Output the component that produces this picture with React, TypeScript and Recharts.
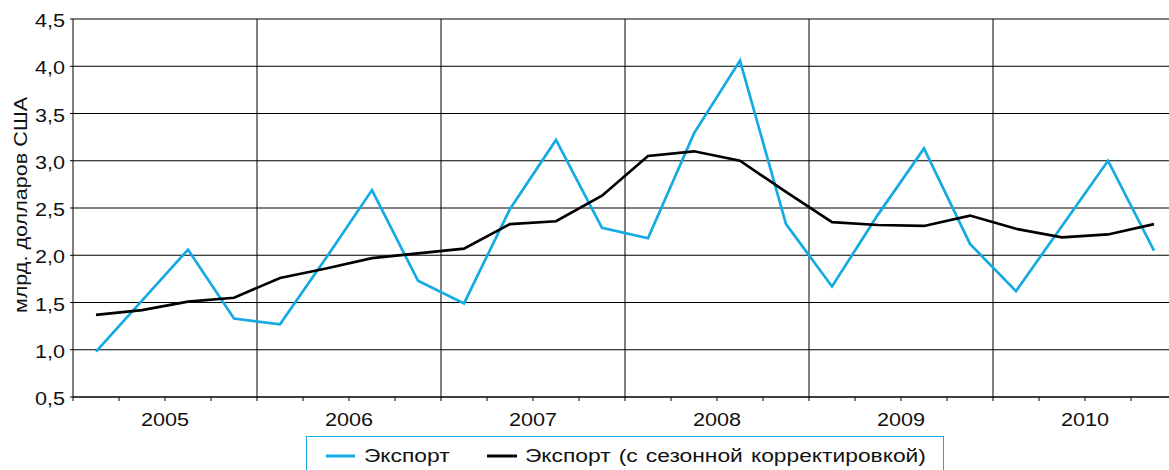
import React from 'react';
import { LineChart, Line, XAxis, YAxis, CartesianGrid, ReferenceLine, Legend, Label } from 'recharts';

const years = ['2005', '2006', '2007', '2008', '2009', '2010'];
const quartersPerYear = 4;
const exportValues = [0.98, 1.52, 2.06, 1.33, 1.27, 1.97, 2.69, 1.73, 1.49, 2.49, 3.22, 2.29, 2.18, 3.29, 4.06, 2.33, 1.67, 2.43, 3.13, 2.12, 1.62, 2.31, 3.0, 2.05];
const seasonalValues = [1.37, 1.42, 1.51, 1.55, 1.76, 1.86, 1.97, 2.02, 2.07, 2.33, 2.36, 2.63, 3.05, 3.1, 3.0, 2.67, 2.35, 2.32, 2.31, 2.42, 2.28, 2.19, 2.22, 2.33];
const yTicks = [0.5, 1, 1.5, 2, 2.5, 3, 3.5, 4, 4.5];
const seriesNames = ['Экспорт', 'Экспорт (с сезонной корректировкой)'];
const yAxisTitle = 'млрд. долларов США';

const BLUE = '#14aae3';
const FONT = '"Liberation Sans", Arial, Helvetica, sans-serif';
const FS = 18;
const SX = 1.2;
const LEG_FS = 19;

const totalQuarters = years.length * quartersPerYear;
const data = exportValues.map((v, i) => ({ x: i + 0.5, export: v, seasonal: seasonalValues[i] }));
const xTicks = Array.from({ length: totalQuarters + 1 }, (_, i) => i);
const yearBoundaries = years.slice(1).map((_, i) => (i + 1) * quartersPerYear);

const YTick = (props: any) => {
  const { x, y, payload } = props;
  const label = Number(payload.value).toFixed(1).replace('.', ',');
  return (
    <g transform={`translate(${x},${y})`}>
      <text transform={`scale(${SX},1)`} textAnchor="end" dy={8} fontSize={FS} fill="#111" fontFamily={FONT}>
        {label}
      </text>
    </g>
  );
};

const XTick = (props: any) => {
  const { x, y, payload } = props;
  const v = Number(payload.value);
  const half = quartersPerYear / 2;
  if ((v - half) % quartersPerYear !== 0) return <g />;
  const label = years[(v - half) / quartersPerYear];
  return (
    <g transform={`translate(${x},${y})`}>
      <text transform={`scale(${SX},1)`} textAnchor="middle" dy={23} fontSize={FS} fill="#111" fontFamily={FONT}>
        {label}
      </text>
    </g>
  );
};

const renderYLabel = (props: any) => {
  const vb = props.viewBox || { x: 0, y: 0, width: 0, height: 0 };
  const cx = 18.5;
  const cy = vb.y + vb.height / 2 - 3;
  return (
    <text transform={`translate(${cx},${cy}) rotate(-90) scale(${SX},1)`} textAnchor="middle" fontSize={FS} fill="#111" fontFamily={FONT}>
      {yAxisTitle}
    </text>
  );
};

const LegendContent = () => (
  <div style={{ boxSizing: 'border-box', width: 638, height: 44, border: `1px solid ${BLUE}`, background: '#fff' }}>
    <svg width={636} height={42} style={{ display: 'block' }}>
      <line x1={19} x2={48} y1={19} y2={19} stroke={BLUE} strokeWidth={3} />
      <text transform={`translate(57,25) scale(${SX},1)`} fontSize={LEG_FS} fill="#111" fontFamily={FONT}>{seriesNames[0]}</text>
      <line x1={180} x2={210} y1={19} y2={19} stroke="#000" strokeWidth={3} />
      <text transform={`translate(218,25) scale(${SX},1)`} fontSize={LEG_FS} wordSpacing={1.5} fill="#111" fontFamily={FONT}>{seriesNames[1]}</text>
    </svg>
  </div>
);

export default function App() {
  return (
    <div style={{ position: 'fixed', left: 0, top: 0, width: 1169, height: 470, overflow: 'hidden', background: '#fff' }}>
      <div style={{ position: 'absolute', left: 8, top: 8 }}>
        <LineChart width={1172} height={462} data={data} margin={{ top: 11, right: 3, left: 0, bottom: 0 }}>
          <CartesianGrid vertical={false} stroke="#000" strokeWidth={1} />
          {yearBoundaries.map((b) => (
            <ReferenceLine key={b} x={b} stroke="#000" strokeWidth={1} ifOverflow="visible" />
          ))}
          <XAxis
            dataKey="x"
            type="number"
            domain={[0, totalQuarters]}
            ticks={xTicks}
            interval={0}
            height={73}
            tickSize={4}
            tickMargin={2}
            axisLine={{ stroke: '#000' }}
            tickLine={{ stroke: '#000' }}
            tick={<XTick />}
            allowDataOverflow
          />
          <YAxis
            type="number"
            domain={[0.5, 4.5]}
            ticks={yTicks}
            interval={0}
            width={65}
            tickSize={3}
            tickMargin={5}
            axisLine={{ stroke: '#000' }}
            tickLine={{ stroke: '#000' }}
            tick={<YTick />}
            label={<Label content={renderYLabel} />}
          />
          <Legend
            verticalAlign="middle"
            align="center"
            layout="horizontal"
            wrapperStyle={{ left: 298, top: 428, width: 638 }}
            content={<LegendContent />}
          />
          <Line type="linear" dataKey="export" name={seriesNames[0]} stroke={BLUE} strokeWidth={2.7} dot={false} isAnimationActive={false} />
          <Line type="linear" dataKey="seasonal" name={seriesNames[1]} stroke="#000" strokeWidth={2.7} dot={false} isAnimationActive={false} />
        </LineChart>
      </div>
    </div>
  );
}
